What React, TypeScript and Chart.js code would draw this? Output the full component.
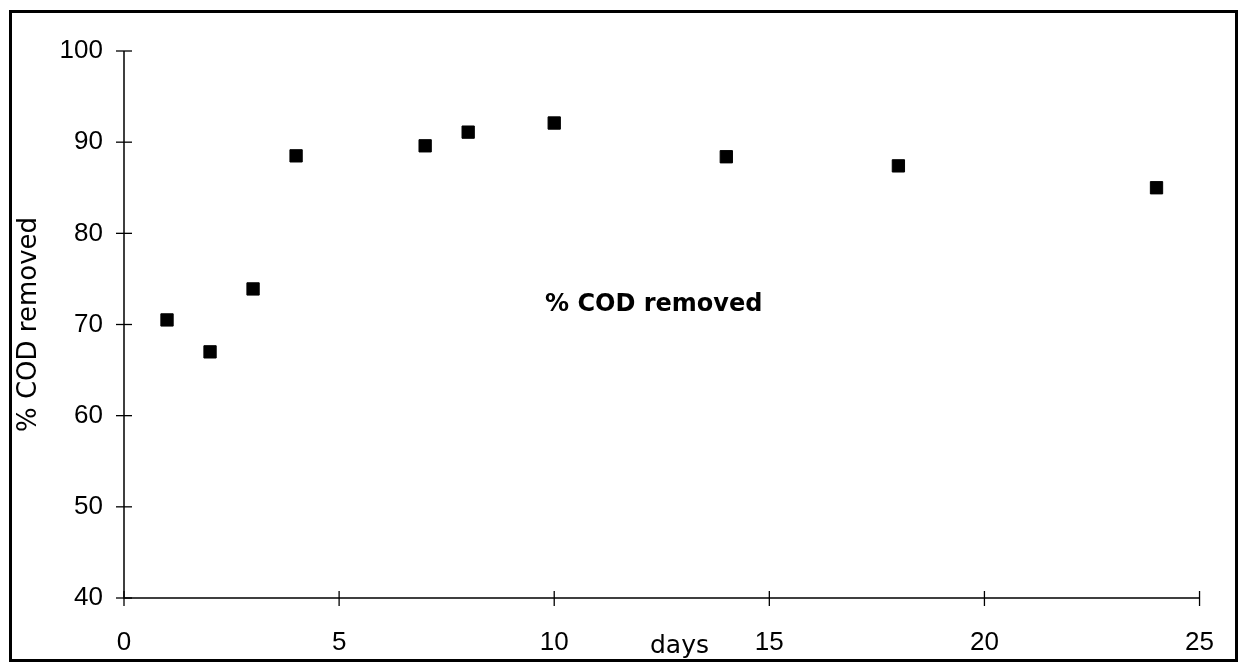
import React, { useEffect, useRef } from "react";
import { Chart, registerables } from "chart.js";

Chart.register(...registerables);

const days = [1, 2, 3, 4, 7, 8, 10, 14, 18, 24];
const codRemoved = [70.5, 67.0, 73.9, 88.5, 89.6, 91.1, 92.1, 88.4, 87.4, 85.0];
const seriesLabel = "% COD removed";
const xTitle = "days";
const yTitle = "% COD removed";
const xMin = 0, xMax = 25, xStep = 5;
const yMin = 40, yMax = 100, yStep = 10;

const CW = 1223;
const CH = 646;

const axesPlugin = {
  id: "crossAxes",
  beforeDatasetsDraw(chart: any) {
    const ctx = chart.ctx;
    const xs = chart.scales.x;
    const ys = chart.scales.y;
    const x0 = xs.getPixelForValue(xMin);
    const x1 = xs.getPixelForValue(xMax);
    const y0 = ys.getPixelForValue(yMin);
    const y1 = ys.getPixelForValue(yMax);
    ctx.save();
    ctx.strokeStyle = "#000";
    ctx.lineWidth = 1.5;
    ctx.beginPath();
    ctx.moveTo(x0, y1);
    ctx.lineTo(x0, y0);
    ctx.lineTo(x1, y0);
    ctx.stroke();
    ctx.lineWidth = 1.3;
    for (let v = yMin; v <= yMax; v += yStep) {
      const p = ys.getPixelForValue(v);
      ctx.beginPath();
      ctx.moveTo(x0 - 8, p);
      ctx.lineTo(x0 + 8, p);
      ctx.stroke();
    }
    for (let v = xMin; v <= xMax; v += xStep) {
      const p = xs.getPixelForValue(v);
      ctx.beginPath();
      ctx.moveTo(p, y0 - 7);
      ctx.lineTo(p, y0 + 8);
      ctx.stroke();
    }
    ctx.restore();
  },
  afterDraw(chart: any) {
    const ctx = chart.ctx;
    ctx.save();
    ctx.fillStyle = "#000";
    ctx.textBaseline = "alphabetic";
    ctx.textAlign = "left";
    ctx.font = "bold 24px 'DejaVu Sans'";
    ctx.fillText(seriesLabel, 533, 298);
    ctx.font = "25px 'DejaVu Sans'";
    ctx.fillText(xTitle, 638, 640);
    ctx.restore();
  },
};

export default function App() {
  const ref = useRef<HTMLCanvasElement | null>(null);
  useEffect(() => {
    if (!ref.current) return;
    const chart = new Chart(ref.current, {
      type: "scatter",
      data: {
        datasets: [
          {
            label: seriesLabel,
            data: days.map((d, i) => ({ x: d, y: codRemoved[i] })),
            pointStyle: "rect",
            pointRadius: 8.7,
            pointBackgroundColor: "#000",
            pointBorderColor: "#000",
            pointBorderWidth: 1,
          },
        ],
      },
      plugins: [axesPlugin],
      options: {
        animation: false,
        responsive: false,
        maintainAspectRatio: false,
        layout: { padding: { left: 0, top: 38, right: CW - 1188, bottom: 0 } },
        plugins: { legend: { display: false }, tooltip: { enabled: false } },
        scales: {
          x: {
            type: "linear",
            min: xMin,
            max: xMax,
            grid: { display: false },
            border: { display: false },
            ticks: {
              stepSize: xStep,
              padding: 21,
              color: "#000",
              font: { family: "'Liberation Sans'", size: 26 },
            },
            afterFit(scale: any) {
              scale.height = CH - 585;
            },
          },
          y: {
            type: "linear",
            min: yMin,
            max: yMax,
            grid: { display: false },
            border: { display: false },
            ticks: {
              stepSize: yStep,
              padding: 13,
              color: "#000",
              font: { family: "'Liberation Sans'", size: 26 },
            },
            title: {
              display: true,
              text: yTitle,
              color: "#000",
              font: { family: "'DejaVu Sans'", size: 26 },
              padding: { top: 2, bottom: 0 },
            },
            afterFit(scale: any) {
              scale.width = 112;
            },
          },
        },
      },
    } as any);
    return () => chart.destroy();
  }, []);
  return (
    <div
      style={{
        position: "absolute",
        left: 9,
        top: 10,
        width: 1229,
        height: 652,
        border: "3px solid #000",
        boxSizing: "border-box",
        background: "#fff",
      }}
    >
      <canvas ref={ref} width={CW} height={CH} style={{ display: "block", width: CW, height: CH }} />
    </div>
  );
}
